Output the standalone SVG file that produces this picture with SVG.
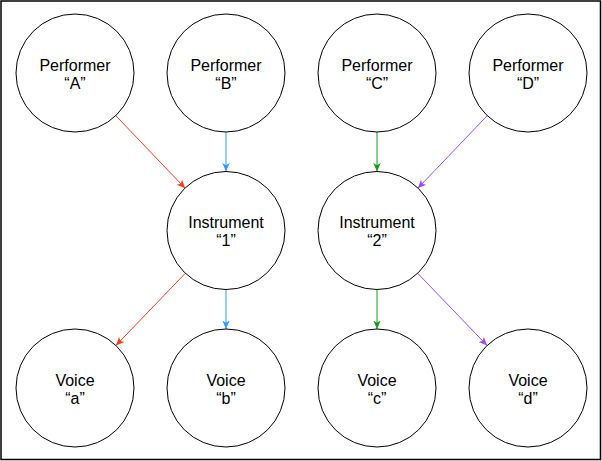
<svg xmlns="http://www.w3.org/2000/svg" width="602" height="461" viewBox="0 0 602 461">
<style>
.node circle{fill:#ffffff;stroke:#000000;stroke-width:1}
.node text{font-family:"Liberation Sans",Arial,sans-serif;font-size:16px;fill:#000000;text-anchor:middle}
.edge{fill:none;stroke-width:1}
</style>
<defs>
<marker id="ar" markerUnits="userSpaceOnUse" markerWidth="10" markerHeight="10" viewBox="0 0 10 8" refX="8.5" refY="4" orient="auto"><path d="M8.5 4 L0 0.3 L2.2 4 L0 7.7 Z" fill="#FF3B1D"/></marker>
<marker id="ab" markerUnits="userSpaceOnUse" markerWidth="10" markerHeight="10" viewBox="0 0 10 8" refX="8.5" refY="4" orient="auto"><path d="M8.5 4 L0 0.3 L2.2 4 L0 7.7 Z" fill="#3399FF"/></marker>
<marker id="ag" markerUnits="userSpaceOnUse" markerWidth="10" markerHeight="10" viewBox="0 0 10 8" refX="8.5" refY="4" orient="auto"><path d="M8.5 4 L0 0.3 L2.2 4 L0 7.7 Z" fill="#1A9A1A"/></marker>
<marker id="ap" markerUnits="userSpaceOnUse" markerWidth="10" markerHeight="10" viewBox="0 0 10 8" refX="8.5" refY="4" orient="auto"><path d="M8.5 4 L0 0.3 L2.2 4 L0 7.7 Z" fill="#9B4DFF"/></marker>
</defs>
<rect x="1" y="1" width="599.5" height="458.5" fill="#ffffff" stroke="#000000" stroke-width="1.5"/>
<g id="connectors">
<line class="edge" x1="115.8" y1="115.7" x2="185.2" y2="188.3" stroke="#FF3B1D" marker-end="url(#ar)"/>
<line class="edge" x1="226" y1="132" x2="226" y2="171.5" stroke="#3399FF" marker-end="url(#ab)"/>
<line class="edge" x1="377" y1="132" x2="377" y2="171.5" stroke="#1A9A1A" marker-end="url(#ag)"/>
<line class="edge" x1="487.2" y1="115.7" x2="417.8" y2="188.3" stroke="#9B4DFF" marker-end="url(#ap)"/>
<line class="edge" x1="185.1" y1="273.5" x2="115.9" y2="345.5" stroke="#FF3B1D" marker-end="url(#ar)"/>
<line class="edge" x1="226" y1="290" x2="226" y2="329" stroke="#3399FF" marker-end="url(#ab)"/>
<line class="edge" x1="377" y1="290" x2="377" y2="329" stroke="#1A9A1A" marker-end="url(#ag)"/>
<line class="edge" x1="417.9" y1="273.5" x2="487.1" y2="345.5" stroke="#9B4DFF" marker-end="url(#ap)"/>
</g>
<g id="performer-a" class="node"><circle cx="75" cy="73" r="59"/><text x="75" y="71">Performer</text><text x="75" y="89">“A”</text></g>
<g id="performer-b" class="node"><circle cx="226" cy="73" r="59"/><text x="226" y="71">Performer</text><text x="226" y="89">“B”</text></g>
<g id="performer-c" class="node"><circle cx="377" cy="73" r="59"/><text x="377" y="71">Performer</text><text x="377" y="89">“C”</text></g>
<g id="performer-d" class="node"><circle cx="528" cy="73" r="59"/><text x="528" y="71">Performer</text><text x="528" y="89">“D”</text></g>
<g id="instrument-1" class="node"><circle cx="226" cy="230.5" r="59"/><text x="226" y="228">Instrument</text><text x="226" y="246">“1”</text></g>
<g id="instrument-2" class="node"><circle cx="377" cy="230.5" r="59"/><text x="377" y="228">Instrument</text><text x="377" y="246">“2”</text></g>
<g id="voice-a" class="node"><circle cx="75" cy="388" r="59"/><text x="75" y="386">Voice</text><text x="75" y="404">“a”</text></g>
<g id="voice-b" class="node"><circle cx="226" cy="388" r="59"/><text x="226" y="386">Voice</text><text x="226" y="404">“b”</text></g>
<g id="voice-c" class="node"><circle cx="377" cy="388" r="59"/><text x="377" y="386">Voice</text><text x="377" y="404">“c”</text></g>
<g id="voice-d" class="node"><circle cx="528" cy="388" r="59"/><text x="528" y="386">Voice</text><text x="528" y="404">“d”</text></g>
</svg>
